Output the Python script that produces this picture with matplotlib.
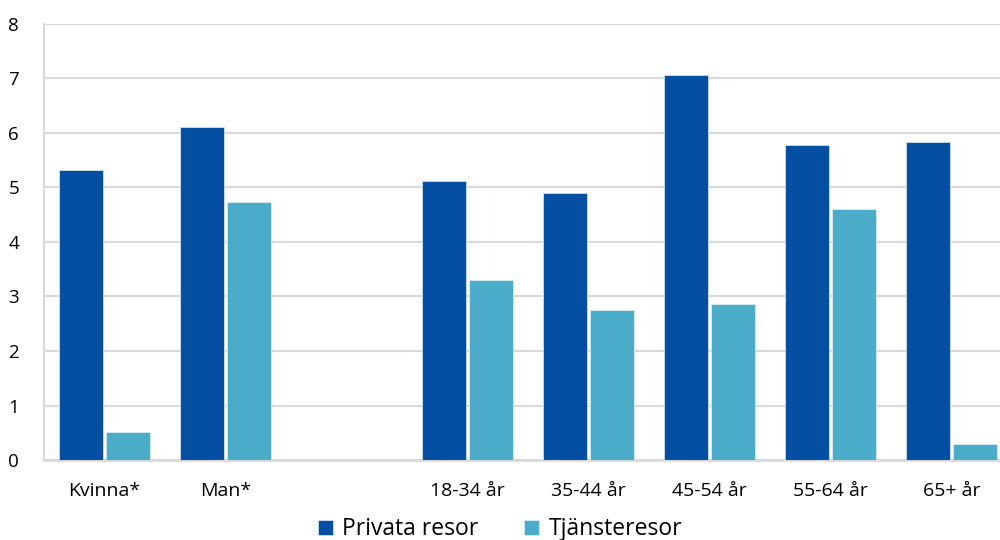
import matplotlib
matplotlib.use('Agg')
import matplotlib.pyplot as plt
import numpy as np

# data
categories = ['Kvinna*', 'Man*', '', '18-34 år', '35-44 år', '45-54 år', '55-64 år', '65+ år']
privata = [5.32, 6.10, np.nan, 5.12, 4.89, 7.06, 5.77, 5.83]
tjanste = [0.52, 4.73, np.nan, 3.30, 2.75, 2.86, 4.61, 0.29]
series_names = ['Privata resor', 'Tjänsteresor']
yticks = [0, 1, 2, 3, 4, 5, 6, 7, 8]

plt.rcParams['font.family'] = ['Open Sans', 'DejaVu Sans']

fig = plt.figure(figsize=(10, 5.4), dpi=100)
# plot area runs a little past the right edge, as in the original
ax = fig.add_axes([0.044, 0.148, 0.968, 0.808])

x = np.arange(len(categories))
w = 0.364
gap = 0.0125
ax.bar(x - w / 2 - gap, privata, width=w, color='#054FA3', edgecolor='#cfe0f0',
       linewidth=0.6, label=series_names[0], zorder=3)
ax.bar(x + w / 2 + gap, tjanste, width=w, color='#4BACC9', edgecolor='#d9eef4',
       linewidth=0.6, label=series_names[1], zorder=3)

ax.set_xlim(-0.5, len(categories) - 0.5)
ax.set_ylim(0, 8)
ax.set_yticks(yticks)
ax.set_yticklabels([str(t) for t in yticks], fontsize=13.5, color='#000000')
ax.set_xticks(x)
ax.set_xticklabels(categories, fontsize=14, color='#000000')
ax.tick_params(axis='both', length=0)
ax.tick_params(axis='y', pad=18)
ax.tick_params(axis='x', pad=16)

ax.yaxis.grid(True, color='#d9d9d9', linewidth=1.5, zorder=0)
ax.set_axisbelow(True)
for s in ['top', 'right']:
    ax.spines[s].set_visible(False)
ax.spines['left'].set_color('#d9d9d9')
ax.spines['left'].set_linewidth(1.5)
ax.spines['bottom'].set_color('#d9d9d9')
ax.spines['bottom'].set_linewidth(2)

leg = fig.legend(loc='center', bbox_to_anchor=(0.5, 0.02), ncol=2, frameon=False,
                 fontsize=16.5, handlelength=0.65, handleheight=0.65, handletextpad=0.4,
                 columnspacing=2.0)
for t in leg.get_texts():
    t.set_color('#000000')

fig.savefig('out.png', dpi=100)
